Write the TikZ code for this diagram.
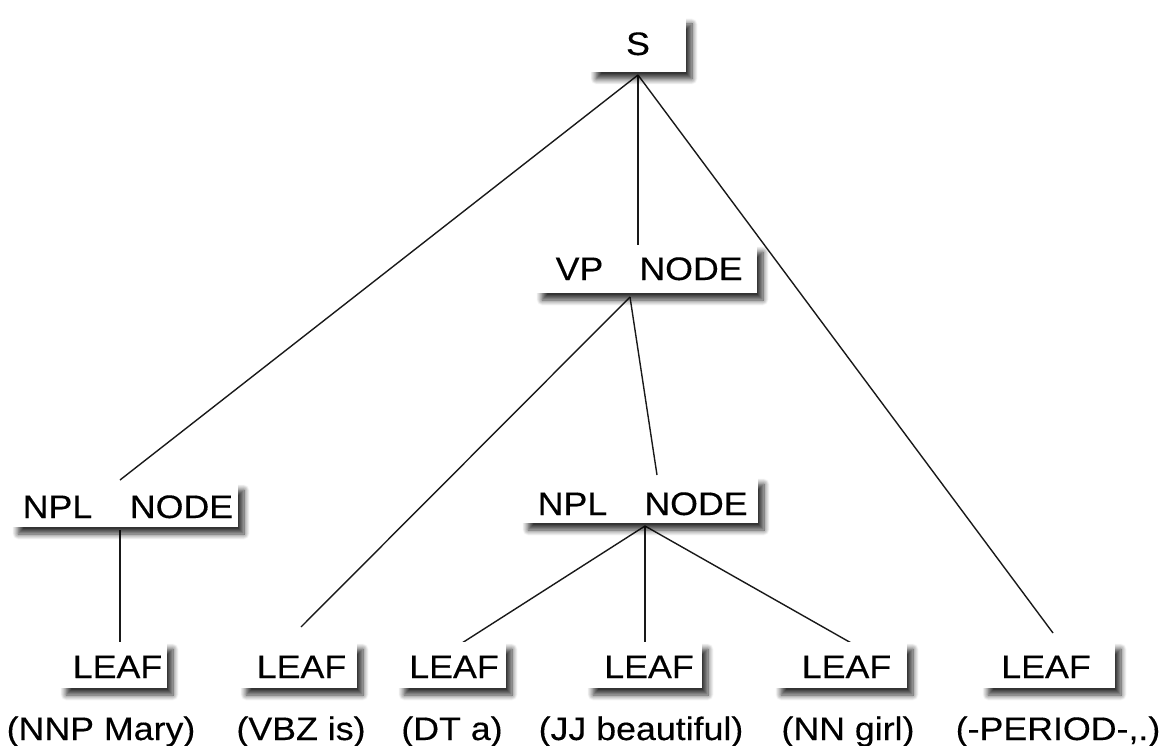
\documentclass[tikz,border=0pt]{standalone}
\usepackage{fontspec}
\setmainfont{Liberation Sans}[FakeStretch=1.1,FakeBold=0.3]
\usetikzlibrary{shadows.blur,backgrounds}

\tikzset{
  x=1pt, y=-1pt,
  box/.style={fill=white, draw=none, inner sep=0pt,
    blur shadow={shadow xshift=6pt, shadow yshift=-7pt,
      shadow blur radius=5.5pt, shadow blur steps=8, shadow opacity=80}},
  tag/.style={anchor=base, inner sep=0pt, font=\fontsize{32.5}{38}\selectfont},
  edge/.style={draw=black!90, line width=1.4pt},
}

\begin{document}
\begin{tikzpicture}
\useasboundingbox (0,0) rectangle (1168,746);

% inner nodes
\node[box, minimum width=96pt,  minimum height=55pt] (S)    at (638,44.5)  {};
\node[box, minimum width=221pt, minimum height=48pt] (VP)   at (646.5,269) {};
\node[box, minimum width=226pt, minimum height=44pt] (NPLa) at (125,505)   {};
\node[box, minimum width=236pt, minimum height=46pt] (NPLb) at (640,500)   {};

% leaf boxes
\node[box, minimum width=107pt, minimum height=46pt] (L1) at (113.5,665)  {};
\node[box, minimum width=117pt, minimum height=46pt] (L2) at (298.5,665)  {};
\node[box, minimum width=108pt, minimum height=46pt] (L3) at (452,665)    {};
\node[box, minimum width=115pt, minimum height=46pt] (L4) at (644.5,665)  {};
\node[box, minimum width=132pt, minimum height=46pt] (L5) at (841,665)    {};
\node[box, minimum width=133pt, minimum height=46pt] (L6) at (1048.5,665) {};

% node texts
\node[tag] (S-t)     at (638,55)    {S};
\node[tag] (VP-a)    at (579.5,280) {VP};
\node[tag] (VP-b)    at (691,280)   {NODE};
\node[tag] (NPLa-a)  at (57.5,518)  {NPL};
\node[tag] (NPLa-b)  at (181.5,518) {NODE};
\node[tag] (NPLb-a)  at (572.5,515) {NPL};
\node[tag] (NPLb-b)  at (696,515)   {NODE};

\node[tag] (L1-t) at (117.5,678) {LEAF};
\node[tag] (L2-t) at (301.5,678) {LEAF};
\node[tag] (L3-t) at (454,678)   {LEAF};
\node[tag] (L4-t) at (649,678)   {LEAF};
\node[tag] (L5-t) at (846.5,678) {LEAF};
\node[tag] (L6-t) at (1046,678)  {LEAF};

% leaf labels
\node[tag] (W1) at (101,740)  {(NNP Mary)};
\node[tag] (W2) at (301,740)  {(VBZ is)};
\node[tag] (W3) at (452,740)  {(DT a)};
\node[tag] (W4) at (641,740)  {(JJ beautiful)};
\node[tag] (W5) at (848,740)  {(NN girl)};
\node[tag] (W6) at (1058,740) {(-PERIOD-,.)};

% attachment points of the branches
\coordinate (S-out)    at (638,75);
\coordinate (VP-in)    at (638,247);
\coordinate (VP-out)   at (630,297);
\coordinate (NPLa-in)  at (120,480);
\coordinate (NPLa-out) at (120,530);
\coordinate (NPLb-in)  at (657,475);
\coordinate (NPLb-out) at (645,526);
\coordinate (L1-in) at (120,645);
\coordinate (L2-in) at (301,627);
\coordinate (L3-in) at (462,643);
\coordinate (L4-in) at (645,645);
\coordinate (L5-in) at (853,644);
\coordinate (L6-in) at (1053,633);

\begin{pgfonlayer}{background}
  \path[edge] (S-out) -- (NPLa-in);
  \path[edge] (S-out) -- (VP-in);
  \path[edge] (S-out) -- (L6-in);
  \path[edge] (VP-out) -- (L2-in);
  \path[edge] (VP-out) -- (NPLb-in);
  \path[edge] (NPLa-out) -- (L1-in);
  \path[edge] (NPLb-out) -- (L3-in);
  \path[edge] (NPLb-out) -- (L4-in);
  \path[edge] (NPLb-out) -- (L5-in);
\end{pgfonlayer}
\end{tikzpicture}
\end{document}
